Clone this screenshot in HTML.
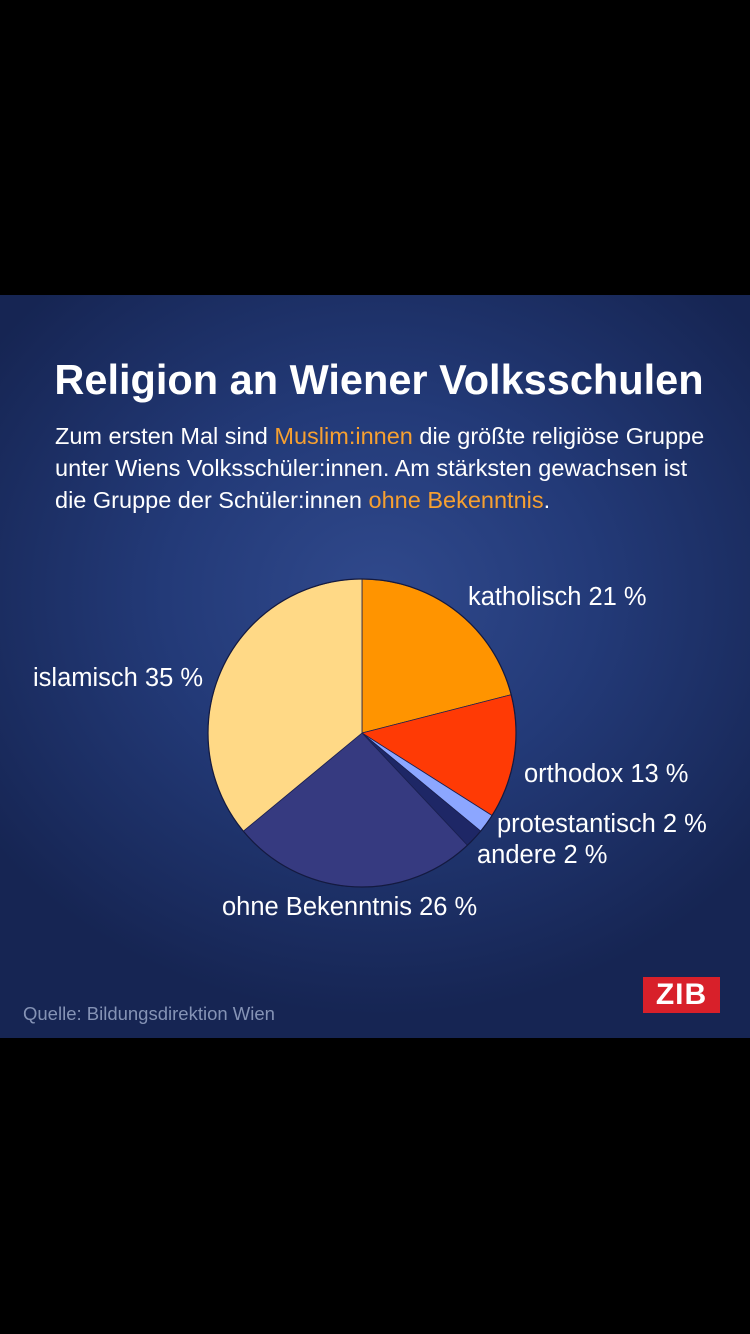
<!DOCTYPE html>
<html><head><meta charset="utf-8"><style>
body{margin:0;width:750px;height:1334px;background:#000;position:relative;overflow:hidden;font-family:"Liberation Sans",sans-serif}
#p{position:absolute;left:0;top:295px;width:750px;height:743px;background:radial-gradient(ellipse 480px 420px at 380px 300px,#30498c 0%,#233a78 45%,#162553 100%)}
.t{position:absolute;color:#fff;white-space:nowrap}
.o{color:#f7a030}
.l{font-size:25.5px}
</style></head><body>
<div id="p">
<div class="t" style="left:0;width:758px;text-align:center;top:61px;font-size:41.5px;font-weight:bold">Religion an Wiener Volksschulen</div>
<div class="t" style="left:55px;top:125px;font-size:23.5px;line-height:32px">Zum ersten Mal sind <span class="o">Muslim:innen</span> die größte religiöse Gruppe<br>unter Wiens Volksschüler:innen. Am stärksten gewachsen ist<br>die Gruppe der Schüler:innen <span class="o">ohne Bekenntnis</span>.</div>
<svg style="position:absolute;left:0;top:0" width="750" height="743" viewBox="0 295 750 743">
<g stroke="#1a2050" stroke-width="0.8">
<path d="M362 733L362 579A154 154 0 0 1 511.2 694.7Z" fill="#ff9400"/>
<path d="M362 733L511.2 694.7A154 154 0 0 1 492 815.5Z" fill="#ff3a05"/>
<path d="M362 733L492 815.5A154 154 0 0 1 480.7 831.2Z" fill="#8ca6ff"/>
<path d="M362 733L480.7 831.2A154 154 0 0 1 467.4 845.3Z" fill="#1e2766"/>
<path d="M362 733L467.4 845.3A154 154 0 0 1 243.3 831.2Z" fill="#363a80"/>
<path d="M362 733L243.3 831.2A154 154 0 0 1 362 579Z" fill="#ffd986"/>
</g>
<circle cx="362" cy="733" r="154" fill="none" stroke="#141a40" stroke-width="1.2"/>
</svg>
<div class="t l" style="left:468px;top:288px">katholisch 21 %</div>
<div class="t l" style="left:33px;top:369px">islamisch 35 %</div>
<div class="t l" style="left:524px;top:465px">orthodox 13 %</div>
<div class="t l" style="left:497px;top:515px">protestantisch 2 %</div>
<div class="t l" style="left:477px;top:546px">andere 2 %</div>
<div class="t l" style="left:222px;top:598px">ohne Bekenntnis 26 %</div>
<div class="t" style="left:23px;top:708px;font-size:18.5px;color:#8593b5">Quelle: Bildungsdirektion Wien</div>
<div class="t" style="left:643px;top:682px;width:77px;height:36px;background:#d8202a;font-size:30px;font-weight:bold;text-align:center;line-height:36px;letter-spacing:1px">ZIB</div>
</div>
</body></html>
